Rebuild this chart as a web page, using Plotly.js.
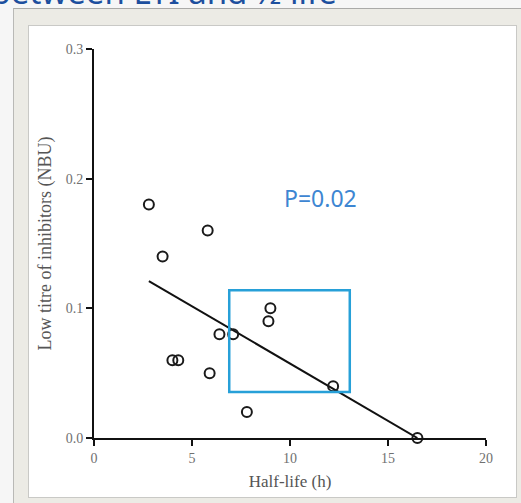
<!DOCTYPE html>
<html>
<head>
<meta charset="utf-8">
<script src="https://cdn.plot.ly/plotly-3.0.1.min.js"></script>
<style>
  html, body { margin: 0; padding: 0; background: #f6f6f6; overflow: hidden; }
  #wrap { position: relative; width: 521px; height: 503px; }
  #outer { position: absolute; left: 13px; top: 8px; width: 520px; height: 500px;
           background: #ecebe5; border-left: 1px solid #b9b9b6; border-top: 1px solid #aaaaa8; }
  #inner { position: absolute; left: 28px; top: 25px; width: 487px; height: 471px;
           background: #ffffff; border: 1px solid #c9c9c6; }
  #slideTitle { position: absolute; right: 184px; top: -25px; font-family: "Noto Sans", sans-serif;
           font-size: 33px; line-height: 33px; color: #1d4f9e; white-space: nowrap; }
  #chart { position: absolute; left: 0; top: 0; width: 521px; height: 503px; }
</style>
</head>
<body>
<div id="wrap">
  <div id="outer"></div>
  <div id="inner"></div>
  <div id="slideTitle">Correlation between LTI and ½ life</div>
  <div id="chart"></div>
</div>
<script>
// Data
const halfLife = [2.8, 3.5, 5.8, 4.0, 4.3, 6.4, 7.1, 5.9, 9.0, 8.9, 12.2, 7.8, 16.5];
const lowTitre = [0.18, 0.14, 0.16, 0.06, 0.06, 0.08, 0.08, 0.05, 0.10, 0.09, 0.04, 0.02, 0.00];
// Fitted regression line (end points)
const fitX = [2.8, 16.5];
const fitY = [0.121, 0.0];
// Highlight box (data units)
const boxX = [6.9, 13.05];
const boxY = [0.0355, 0.114];
const pLabel = "P=0.02";
const xTicks = [0, 5, 10, 15, 20];
const yTicks = [0.0, 0.1, 0.2, 0.3];

const traces = [
  { x: fitX, y: fitY, mode: 'lines', type: 'scatter',
    line: { color: '#111111', width: 2 }, hoverinfo: 'skip', cliponaxis: false },
  { x: halfLife, y: lowTitre, mode: 'markers', type: 'scatter', cliponaxis: false,
    marker: { symbol: 'circle-open', size: 10, color: '#1a1a1a', line: { width: 2, color: '#1a1a1a' } } }
];

const axisFont = { family: '"Liberation Serif", "Times New Roman", serif', size: 14, color: '#707070' };

const layout = {
  width: 521, height: 503,
  margin: { l: 94, r: 35, t: 49, b: 65 },
  paper_bgcolor: 'rgba(0,0,0,0)',
  plot_bgcolor: 'rgba(0,0,0,0)',
  showlegend: false,
  xaxis: {
    range: [0, 20], tickvals: xTicks, ticktext: xTicks.map(String),
    showgrid: false, zeroline: false, showline: true, linecolor: '#111', linewidth: 2,
    ticks: 'outside', ticklen: 6, tickwidth: 2, tickcolor: '#111',
    tickfont: axisFont, automargin: false,
    title: { text: 'Half-life (h)', standoff: 10,
             font: { family: '"Liberation Serif", "Times New Roman", serif', size: 17, color: '#555' } }
  },
  yaxis: {
    range: [0, 0.3], tickvals: yTicks, ticktext: yTicks.map(v => v.toFixed(1)),
    showgrid: false, zeroline: false, showline: true, linecolor: '#111', linewidth: 2,
    ticks: 'outside', ticklen: 6, tickwidth: 2, tickcolor: '#111',
    tickfont: axisFont, automargin: false,
    title: { text: 'Low titre of inhibitors (NBU)', standoff: 9,
             font: { family: '"Liberation Serif", "Times New Roman", serif', size: 18, color: '#555' } }
  },
  shapes: [
    { type: 'rect', xref: 'x', yref: 'y', x0: boxX[0], x1: boxX[1], y0: boxY[0], y1: boxY[1],
      line: { color: '#27a0d8', width: 2.5 }, fillcolor: 'rgba(0,0,0,0)' }
  ],
  annotations: [
    { text: pLabel, xref: 'paper', yref: 'paper', x: (320 - 94) / 392, y: (438 - 198) / 389,
      xanchor: 'center', yanchor: 'middle', showarrow: false,
      font: { family: '"Noto Sans", sans-serif', size: 23, color: '#3d86d2' } }
  ]
};

Plotly.newPlot('chart', traces, layout, { staticPlot: true, displayModeBar: false });
</script>
</body>
</html>
